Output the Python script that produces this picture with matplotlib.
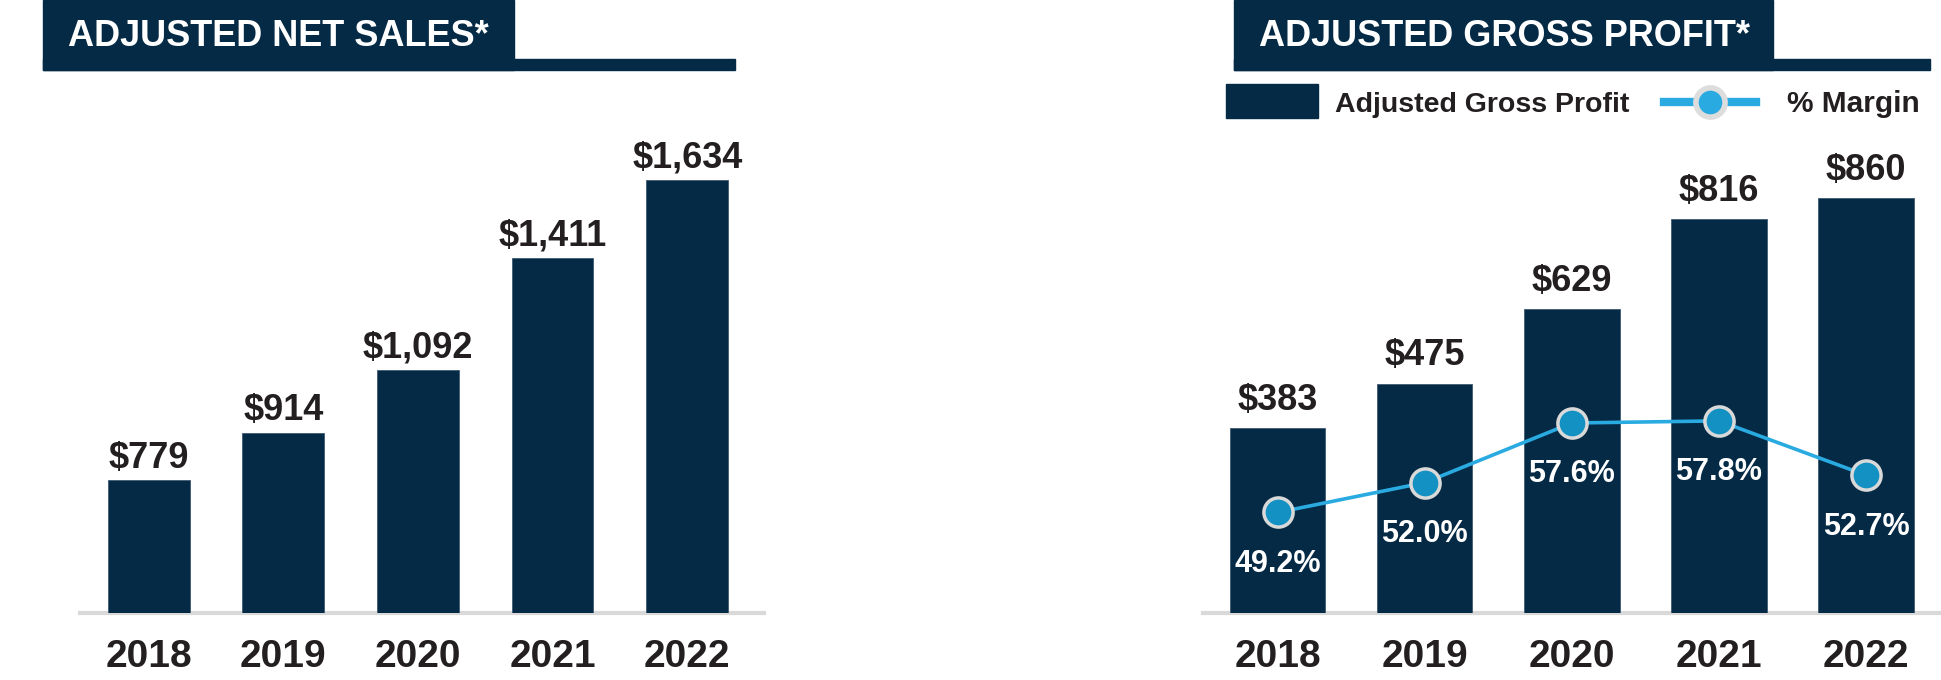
import matplotlib
matplotlib.use("Agg")
import matplotlib.pyplot as plt
from matplotlib.patches import Rectangle
from matplotlib.lines import Line2D

years = ["2018", "2019", "2020", "2021", "2022"]
net_sales = [779, 914, 1092, 1411, 1634]
gross_profit = [383, 475, 629, 816, 860]
margin = [49.2, 52.0, 57.6, 57.8, 52.7]

NAVY = "#042a45"
DARK = "#231f20"
BLUE = "#29abe2"
DOT = "#1391c3"
GREY = "#d9d9d9"

NARROW = ["Liberation Sans Narrow", "Liberation Sans", "DejaVu Sans"]
WIDE = ["Liberation Sans", "DejaVu Sans"]

W, H = 1941, 680
fig = plt.figure(figsize=(W / 100, H / 100), dpi=100)


def fx(x):
    return x / W


def fy(y):
    return 1 - y / H


def axes_px(left, top, right, bottom):
    return fig.add_axes([fx(left), fy(bottom), (right - left) / W, (bottom - top) / H])


def title_box(left, right, line_end, text):
    fig.patches.append(Rectangle((fx(left), fy(70)), (right - left) / W, 70 / H,
                                 transform=fig.transFigure, color=NAVY, zorder=0))
    fig.patches.append(Rectangle((fx(left), fy(70)), (line_end - left) / W, 11 / H,
                                 transform=fig.transFigure, color=NAVY, zorder=0))
    fig.text(fx(left + 25), fy(46), text, color="white", fontsize=26,
             fontweight="bold", family=WIDE, ha="left", va="baseline")


def style_axes(ax):
    for s in ["top", "right", "left"]:
        ax.spines[s].set_visible(False)
    ax.spines["bottom"].set_color(GREY)
    ax.spines["bottom"].set_linewidth(3)
    ax.set_yticks([])
    ax.tick_params(axis="x", length=0, pad=19)
    ax.set_xticks(range(len(years)))
    ax.set_xticklabels(years, fontsize=28, fontweight="bold", color=DARK, family=NARROW)
    ax.patch.set_alpha(0)


# left panel
title_box(43, 514, 735, "ADJUSTED NET SALES*")
ax1 = axes_px(80, 100, 764, 613)
x = range(len(years))
bars = ax1.bar(x, net_sales, width=0.607, color=NAVY, edgecolor="#3d5a73", linewidth=0.6, zorder=3)
ax1.set_xlim(-0.51, 4.57)
ax1.set_ylim(402, 1861)
style_axes(ax1)
for b, v in zip(bars, net_sales):
    ax1.annotate(f"${v:,}", (b.get_x() + b.get_width() / 2, v), xytext=(0, 9),
                 textcoords="offset points", ha="center", va="baseline",
                 fontsize=26, fontweight="bold", color=DARK, family=NARROW)

# right panel
title_box(1234, 1773, 1930, "ADJUSTED GROSS PROFIT*")
ax2 = axes_px(1203, 100, 1941, 613)
bars2 = ax2.bar(x, gross_profit, width=0.65, color=NAVY, edgecolor="#3d5a73", linewidth=0.6, zorder=3)
ax2.set_xlim(-0.507, 4.51)
ax2.set_ylim(0, 1062)
style_axes(ax2)
for b, v in zip(bars2, gross_profit):
    ax2.annotate(f"${v:,}", (b.get_x() + b.get_width() / 2, v), xytext=(0, 13),
                 textcoords="offset points", ha="center", va="baseline",
                 fontsize=26, fontweight="bold", color=DARK, family=NARROW)

ax3 = ax2.twinx()
ax3.set_ylim(39.76, 87.93)
ax3.axis("off")
ax3.plot(x, margin, color=BLUE, lw=2.6, marker="o", ms=21, mfc=DOT, mec=GREY, mew=2.5, zorder=5)
for i, m in zip(x, margin):
    ax3.annotate(f"{m:.1f}%", (i, m), xytext=(0, -37), textcoords="offset points",
                 ha="center", va="center", fontsize=22, fontweight="bold",
                 color="white", family=WIDE)

# legend
fig.patches.append(Rectangle((fx(1226), fy(118)), 92 / W, 34 / H,
                             transform=fig.transFigure, color=NAVY))
fig.text(fx(1335), fy(112), "Adjusted Gross Profit", fontsize=20.5, fontweight="bold",
         color=DARK, family=NARROW, ha="left", va="baseline")
fig.add_artist(Line2D([fx(1664), fx(1756)], [fy(102), fy(102)], transform=fig.transFigure,
                      color=BLUE, lw=6))
fig.add_artist(Line2D([fx(1710)], [fy(102)], transform=fig.transFigure, marker="o",
                      ms=21, mfc=BLUE, mec="#dddddd", mew=4))
fig.text(fx(1787), fy(112), "% Margin", fontsize=21.5, fontweight="bold",
         color=DARK, family=NARROW, ha="left", va="baseline")

fig.savefig("out.png", dpi=100)
